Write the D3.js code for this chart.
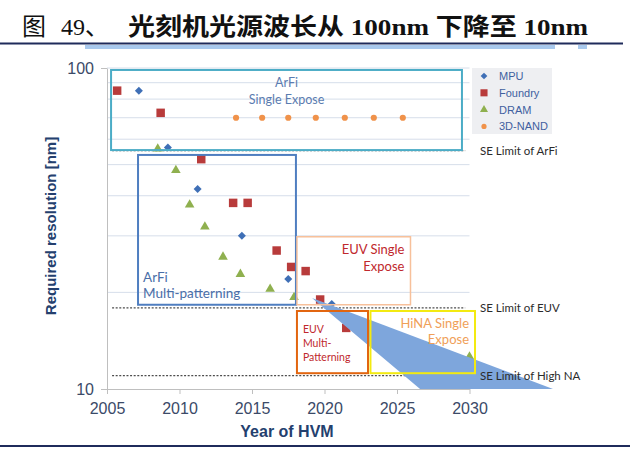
<!DOCTYPE html>
<html>
<head>
<meta charset="utf-8">
<script src="https://cdn.jsdelivr.net/npm/d3@7"></script>
<style>
	body { margin: 0; background: #fff; }
	svg { display: block; }
</style>
</head>
<body>
<div id="chart"></div>
<script>

// values (year of HVM, required resolution in nm)
const mpuYears = [2007.2, 2009.2, 2011.25, 2014.3, 2017.5, 2020.5];
const mpuValues = [85, 56.5, 42, 30, 22, 18.4];

const foundryYears = [2005.7, 2008.7, 2011.5, 2013.7, 2014.7, 2016.7, 2017.7, 2018.7, 2019.7, 2021.5];
const foundryValues = [85, 72.5, 52, 38, 38, 27, 24, 23.3, 19, 15.5];

const dramYears = [2008.5, 2009.75, 2010.7, 2011.75, 2013, 2014.2, 2016.25, 2017.9, 2030];
const dramValues = [56, 48, 37.5, 32, 25.8, 22.8, 20.5, 19.3, 12.6];

const nandYears = [2013.9, 2015.7, 2017.5, 2019.4, 2021.4, 2023.4, 2025.4];
const nandValues = [70, 70, 70, 70, 70, 70, 70];

const seriesNames = ['MPU', 'Foundry', 'DRAM', '3D-NAND'];

const limitNames = ['SE Limit of ArFi', 'SE Limit of EUV', 'SE Limit of High NA'];
const limitValues = [55.3, 17.9, 11];

const xTicks = [2005, 2010, 2015, 2020, 2025, 2030];
const yTicks = [10, 100];

// annotation regions, in years and nm
const regionNames = ['arfiSingle', 'arfiMulti', 'euvSingle', 'euvMulti', 'hinaSingle'];
const regionYears = [[2005.28, 2029.48], [2007.14, 2018.03], [2018.1, 2025.93], [2018.1, 2023.0], [2023.17, 2030.38]];
const regionValues = [[98.6, 55.5], [53.6, 18.3], [29.8, 18.3], [17.5, 11.2], [17.5, 11.2]];

// trend wedge corners
const wedgeYears = [2019.14, 2035.76, 2026.59];
const wedgeValues = [19.2, 10, 10];


class ResolutionChart {

	constructor(options) {
		this.element = options.element;
		this.draw();
	}

	draw() {

		this.width = 640;
		this.height = 451;

		this.createSVG();
		this.createTitle();
		this.createScales();
		this.createGrid();
		this.createAxes();
		this.createLimits();
		this.createPoints();
		this.createWedge();
		this.createLimitLabels();
		this.createRegions();
		this.createLegend();

	}

	createSVG() {
		this.svg = d3.select(this.element)
			.append('svg')
				.attr('width', this.width)
				.attr('height', this.height);

		this.svg.append('rect')
			.attr('width', this.width)
			.attr('height', this.height)
			.attr('fill', '#fff');
	}

	createTitle() {

		const title = this.svg.append('g')
			.attr('font-family', '"Liberation Serif", "Noto Sans CJK SC", serif')
			.attr('font-size', 24)
			.attr('fill', '#111');

		title.append('text')
			.attr('x', 22)
			.attr('y', 35)
			.text('图');

		title.append('text')
			.attr('x', 61)
			.attr('y', 35)
			.text('49、');

		title.append('text')
			.attr('x', 128)
			.attr('y', 35)
			.attr('font-weight', 'bold')
			.attr('textLength', 460)
			.attr('lengthAdjust', 'spacingAndGlyphs')
			.text('光刻机光源波长从 100nm 下降至 10nm');

		this.svg.append('rect')
			.attr('x', 85).attr('y', 45).attr('width', 470).attr('height', 4)
			.attr('fill', '#a9c9ed');

		this.svg.append('rect')
			.attr('x', 578).attr('y', 45).attr('width', 9).attr('height', 4)
			.attr('fill', '#a9c9ed');

		this.svg.append('rect')
			.attr('x', 0).attr('y', 42.5).attr('width', 623).attr('height', 2)
			.attr('fill', '#1f2b5b');

		this.svg.append('rect')
			.attr('x', 0).attr('y', 445).attr('width', 630).attr('height', 2)
			.attr('fill', '#1f2b5b');

	}

	createScales() {

		this.xScale = d3.scaleLinear()
			.domain([2005, 2030])
			.range([107, 469.5]);

		this.yScale = d3.scaleLog()
			.domain([10, 100])
			.range([389, 68]);

	}

	createGrid() {

		const grid = this.yScale.ticks().filter(d => d > 10);

		this.svg.append('g')
			.selectAll('line')
			.data(grid)
			.join('line')
				.attr('x1', this.xScale(2005))
				.attr('x2', this.xScale(2030))
				.attr('y1', d => this.yScale(d))
				.attr('y2', d => this.yScale(d))
				.attr('stroke', '#d6deea')
				.attr('stroke-width', 1);

	}

	createAxes() {

		this.xAxis = d3.axisBottom(this.xScale)
			.tickValues(xTicks)
			.tickFormat(d3.format('d'))
			.tickSize(5)
			.tickSizeOuter(0)
			.tickPadding(9);

		const gx = this.svg.append('g')
			.attr('class', 'xAxis')
			.attr('transform', `translate(0, ${this.yScale(10)})`)
			.call(this.xAxis);

		this.yAxis = d3.axisLeft(this.yScale)
			.tickValues(yTicks)
			.tickFormat(d3.format('d'))
			.tickSize(6)
			.tickSizeOuter(0)
			.tickPadding(7);

		const gy = this.svg.append('g')
			.attr('class', 'yAxis')
			.attr('transform', `translate(${this.xScale(2005)}, 0)`)
			.call(this.yAxis);

		[gx, gy].forEach(g => {
			g.select('.domain').attr('stroke', '#bfbfbf');
			g.selectAll('.tick line').attr('stroke', '#bfbfbf');
			g.selectAll('.tick text')
				.attr('fill', '#3b4a68')
				.attr('font-family', '"Liberation Sans", Arial, sans-serif')
				.attr('font-size', 16);
		});

		this.svg.append('text')
			.attr('x', 287)
			.attr('y', 437)
			.attr('text-anchor', 'middle')
			.attr('font-family', '"Liberation Sans", Arial, sans-serif')
			.attr('font-size', 16)
			.attr('font-weight', 'bold')
			.attr('fill', '#24406e')
			.text('Year of HVM');

		this.svg.append('text')
			.attr('transform', 'translate(56, 226) rotate(-90)')
			.attr('text-anchor', 'middle')
			.attr('font-family', '"Liberation Sans", Arial, sans-serif')
			.attr('font-size', 15)
			.attr('font-weight', 'bold')
			.attr('fill', '#24406e')
			.text('Required resolution [nm]');

	}

	createLimits() {

		this.svg.append('g')
			.selectAll('line')
			.data(limitValues)
			.join('line')
				.attr('x1', this.xScale(2005.35))
				.attr('x2', this.xScale(2029.7))
				.attr('y1', d => this.yScale(d))
				.attr('y2', d => this.yScale(d))
				.attr('stroke', '#4d4d4d')
				.attr('stroke-width', 1.2)
				.attr('stroke-dasharray', '2,1.6');

	}

	createLimitLabels() {

		this.svg.append('g')
			.selectAll('text')
			.data(limitValues)
			.join('text')
				.attr('x', 480)
				.attr('y', d => this.yScale(d) + 4)
				.attr('font-family', 'Lato, "Open Sans", sans-serif')
				.attr('font-size', 11.5)
				.attr('fill', '#2b2b2b')
				.text((d, i) => limitNames[i]);

	}

	createPoints() {

		var that = this;

		this.symbols = [
			{ type: d3.symbolSquare, size: 32, rotate: 45, color: '#3f6fb6' },
			{ type: d3.symbolSquare, size: 72, rotate: 0, color: '#b83b3b' },
			{ type: d3.symbolTriangle, size: 40, rotate: 0, color: '#8fb04f' },
			{ type: d3.symbolCircle, size: 30, rotate: 0, color: '#f0924a' }
		];

		const series = [
			[mpuYears, mpuValues],
			[foundryYears, foundryValues],
			[dramYears, dramValues],
			[nandYears, nandValues]
		];

		this.points = this.svg.append('g');

		series.forEach(([years, values], i) => {
			const sym = that.symbols[i];
			that.points.append('g')
				.selectAll('path')
				.data(years.map((yr, j) => ({ year: yr, value: values[j] })))
				.join('path')
					.attr('d', d3.symbol(sym.type, sym.size))
					.attr('transform', d => `translate(${that.xScale(d.year)}, ${that.yScale(d.value)}) rotate(${sym.rotate})`)
					.attr('fill', sym.color);
		});

	}

	createWedge() {

		const corners = wedgeYears.map((yr, i) => [this.xScale(yr), this.yScale(wedgeValues[i])]);

		this.svg.append('path')
			.attr('d', d3.line()(corners) + 'Z')
			.attr('fill', '#7ea6dc');

	}

	createRegions() {

		const styles = {
			arfiSingle: { stroke: '#4bacc6', width: 2 },
			arfiMulti: { stroke: '#4f7ec0', width: 2 },
			euvSingle: { stroke: '#f7c09a', width: 1.5 },
			euvMulti: { stroke: '#e2650f', width: 2 },
			hinaSingle: { stroke: '#f3ea10', width: 2 }
		};

		this.boxes = {};

		regionNames.forEach((name, i) => {
			const x0 = this.xScale(regionYears[i][0]);
			const x1 = this.xScale(regionYears[i][1]);
			const y0 = this.yScale(regionValues[i][0]);
			const y1 = this.yScale(regionValues[i][1]);
			this.boxes[name] = { x0, x1, y0, y1 };
			this.svg.append('rect')
				.attr('x', x0)
				.attr('y', y0)
				.attr('width', x1 - x0)
				.attr('height', y1 - y0)
				.attr('fill', 'none')
				.attr('stroke', styles[name].stroke)
				.attr('stroke-width', styles[name].width);
		});

		const labels = this.svg.append('g')
			.attr('font-family', 'Lato, "Open Sans", sans-serif');

		const b = this.boxes;

		const addLines = (lines, x, y, step, anchor, size, color) => {
			lines.forEach((t, i) => {
				labels.append('text')
					.attr('x', x)
					.attr('y', y + i * step)
					.attr('text-anchor', anchor)
					.attr('font-size', size)
					.attr('fill', color)
					.text(t);
			});
		};

		addLines(['ArFi', 'Single Expose'], (b.arfiSingle.x0 + b.arfiSingle.x1) / 2, 87, 16.5, 'middle', 12.5, '#5b7cb0');
		addLines(['ArFi', 'Multi-patterning'], b.arfiMulti.x0 + 5, 282, 16, 'start', 13.5, '#4a6ea8');
		addLines(['EUV Single', 'Expose'], b.euvSingle.x1 - 6, 254, 16.5, 'end', 13, '#c0282d');
		addLines(['EUV', 'Multi-', 'Patterning'], b.euvMulti.x0 + 6, 333, 14, 'start', 10.5, '#c0282d');
		addLines(['HiNA Single', 'Expose'], b.hinaSingle.x1 - 6, 328, 16, 'end', 13, '#f0a058');

	}

	createLegend() {

		const legend = this.svg.append('g')
			.attr('transform', 'translate(472, 68)');

		legend.append('rect')
			.attr('width', 80)
			.attr('height', 66)
			.attr('fill', '#eeeff2');

		const items = legend.selectAll('g')
			.data(seriesNames)
			.join('g')
				.attr('transform', (d, i) => `translate(12, ${8 + i * 16.8})`);

		items.append('path')
			.attr('d', (d, i) => d3.symbol(this.symbols[i].type, this.symbols[i].size * 0.7)())
			.attr('transform', (d, i) => `rotate(${this.symbols[i].rotate})`)
			.attr('fill', (d, i) => this.symbols[i].color);

		items.append('text')
			.attr('x', 15)
			.attr('y', 4)
			.attr('font-family', '"Liberation Sans", Arial, sans-serif')
			.attr('font-size', 11)
			.attr('fill', '#3f5fa0')
			.text(d => d);

	}

}

new ResolutionChart({ element: '#chart' });

</script>
</body>
</html>
